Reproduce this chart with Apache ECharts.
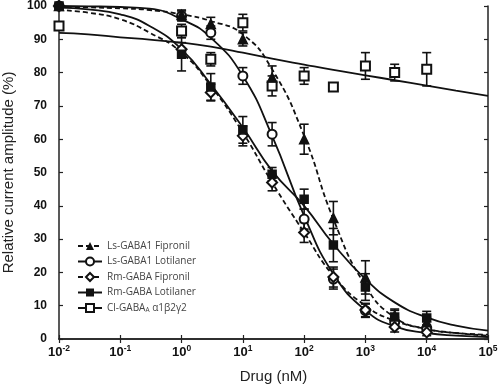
<!DOCTYPE html>
<html><head><meta charset="utf-8">
<script src="https://cdn.jsdelivr.net/npm/echarts@6/dist/echarts.min.js"></script>
<style>html,body{margin:0;padding:0;background:#fff}#c{width:500px;height:388px}</style>
</head><body><div id="c"></div>
<script>
// ---- data ----
const conc = [0.01, 1, 3, 10, 30, 100, 300, 1000, 3000, 10000];
const lsFipMean = [100, 97.3, 94.6, 90, 78.5, 60, 36.3, 18.5, 7, 5];
const lsFipErr  = [0, 1.5, 2, 2, 3.5, 4.5, 5, 5, 2, 1.5];
const lsLotMean = [100, 97, 92, 79, 61.5, 36, 18, 8.5, 5, 3];
const lsLotErr  = [0, 1.5, 2, 2.5, 3.5, 3, 3, 2, 1.5, 1];
const rmFipMean = [100, 87, 74, 61, 47, 32, 18.6, 8.7, 3.6, 2];
const rmFipErr  = [0, 2, 2.5, 3, 2.5, 3, 3, 2, 1.5, 1];
const rmLotMean = [100, 85.5, 75.7, 62.8, 49.5, 42, 28.2, 15.6, 6.6, 6.3];
const rmLotErr  = [0, 5, 4, 4, 2, 3, 5, 4, 2, 2];
const clMean    = [94, 92.5, 84, 95, 76, 79, 75.7, 82, 80, 81];
const clErr     = [1, 2, 2, 2.5, 3, 2.5, 0, 4, 2.5, 5];

const curveX     = [0.01, 0.03, 0.1, 0.3, 1, 3, 10, 30, 100, 300, 1000, 3000, 10000, 30000, 100000];
const lsFipCurve = [99.8, 99.6, 99.3, 98.8, 97.5, 95.5, 91.5, 81, 61, 36, 16, 6.5, 3, 1.8, 1.3];
const lsLotCurve = [100, 99.9, 99.7, 99.2, 96, 90.5, 79, 61, 37, 19.5, 8.6, 3.8, 1.8, 1, 0.6];
const rmFipCurve = [98.8, 98, 96, 92, 86, 76, 62, 47, 32, 19, 10, 5.5, 3, 1.8, 1];
const rmLotCurve = [99.5, 99, 97.5, 94, 87, 76.5, 63.5, 50.5, 40, 28.5, 18, 11, 6.5, 4, 2.5];
const clCurve    = [91.9, 91.5, 90.6, 89.9, 89, 87.8, 86, 84.2, 82.4, 80.8, 79.2, 77.7, 76.1, 74.6, 73];

const names = ['Ls-GABA1 Fipronil', 'Ls-GABA1 Lotilaner', 'Rm-GABA Fipronil', 'Rm-GABA Lotilaner', 'Cl-GABA_A α1β2γ2'];

// ---- chart ----
const INK = '#111';
const chart = echarts.init(document.getElementById('c'), null, {renderer: 'canvas'});

function pair(xs, ys) { return xs.map((x, i) => [x, ys[i]]); }

function curve(name, ys, dashed, symbol, size) {
  return {
    name: name, type: 'line', xAxisIndex: 0, yAxisIndex: 0,
    data: pair(curveX, ys), smooth: true, showSymbol: false,
    symbol: symbol, symbolSize: size,
    lineStyle: {color: INK, width: 1.8, type: dashed ? [5, 3] : 'solid'},
    itemStyle: {color: INK}, z: 2, silent: true
  };
}
function points(id, means, symbol, size) {
  return {
    name: id, type: 'scatter', xAxisIndex: 0, yAxisIndex: 0,
    data: pair(conc, means), symbol: symbol, symbolSize: size,
    itemStyle: {color: INK, borderColor: INK, borderWidth: 1.5, opacity: 1}, z: 5, silent: true
  };
}
function errs(id, means, es) {
  const d = [];
  conc.forEach((x, i) => { if (es[i] > 0) d.push([x, means[i] - es[i], means[i] + es[i]]); });
  return {
    name: id, type: 'custom', xAxisIndex: 0, yAxisIndex: 0, data: d, z: 4, silent: true,
    encode: {x: 0, y: [1, 2]},
    renderItem: function (params, api) {
      const x = api.value(0);
      const p1 = api.coord([x, api.value(1)]);
      const p2 = api.coord([x, api.value(2)]);
      const w = 4.5, st = {stroke: INK, lineWidth: 1.6};
      return {type: 'group', children: [
        {type: 'line', shape: {x1: p1[0], y1: p1[1], x2: p2[0], y2: p2[1]}, style: st},
        {type: 'line', shape: {x1: p1[0] - w, y1: p1[1], x2: p1[0] + w, y2: p1[1]}, style: st},
        {type: 'line', shape: {x1: p2[0] - w, y1: p2[1], x2: p2[0] + w, y2: p2[1]}, style: st}
      ]};
    }
  };
}

const axisFont = 'Liberation Sans, Arial, sans-serif';

const option = {
  backgroundColor: '#fff',
  animation: false,
  grid: {left: 59, right: 12, top: 6, bottom: 49, containLabel: false, outerBoundsMode: 'none'},
  legend: {
    orient: 'vertical', left: 72, top: 236, itemGap: 5.5, itemWidth: 24, itemHeight: 10,
    data: names, selectedMode: false,
    textStyle: {fontFamily: 'Open Sans, Liberation Sans, sans-serif', fontSize: 10, color: '#444',
      rich: {n: {fontFamily: 'Open Sans, sans-serif', fontSize: 10, color: '#444'},
             s: {fontFamily: 'Open Sans, sans-serif', fontSize: 6.5, color: '#444', verticalAlign: 'bottom', padding: [5, 0, 0, 0]}}},
    formatter: function (n) {
      if (n.indexOf('_A') > -1) { const p = n.split('_A'); return '{n|' + p[0] + '}{s|A}{n|' + p[1] + '}'; }
      return n;
    }
  },
  xAxis: [{
    type: 'log', logBase: 10, min: 0.01, max: 100000, position: 'bottom',
    name: 'Drug (nM)', nameLocation: 'middle', nameGap: 30,
    nameTextStyle: {fontFamily: axisFont, fontSize: 15, color: '#222'},
    axisLine: {lineStyle: {color: '#222', width: 1.5}},
    axisTick: {inside: true, length: 4, lineStyle: {color: '#222', width: 1.2}},
    minorTick: {show: false}, splitLine: {show: false},
    axisLabel: {
      margin: 5, color: INK,
      formatter: function (v) { const e = Math.round(Math.log10(v)); return '{b|10}{e|' + e + '}'; },
      rich: {b: {fontFamily: axisFont, fontWeight: 'bold', fontSize: 13, color: INK},
             e: {fontFamily: axisFont, fontWeight: 'bold', fontSize: 8.5, color: INK, verticalAlign: 'top', padding: [0, 0, 7, 0]}}
    }
  }, {
    type: 'log', logBase: 10, min: 0.01, max: 100000, position: 'top',
    axisLine: {lineStyle: {color: '#222', width: 1.5}},
    axisTick: {inside: true, length: 4, lineStyle: {color: '#222', width: 1.2}},
    axisLabel: {show: false}, splitLine: {show: false}
  }],
  yAxis: [{
    type: 'value', min: 0, max: 100, interval: 10, position: 'left',
    name: 'Relative current amplitude (%)', nameLocation: 'middle', nameGap: 31,
    nameTextStyle: {fontFamily: axisFont, fontSize: 15, color: '#222'},
    axisLine: {show: true, lineStyle: {color: '#222', width: 1.5}},
    axisTick: {show: true, inside: true, length: 4, lineStyle: {color: '#222', width: 1.2}},
    splitLine: {show: false},
    axisLabel: {margin: 12, fontFamily: axisFont, fontWeight: 'bold', fontSize: 12, color: INK}
  }, {
    type: 'value', min: 0, max: 100, interval: 10, position: 'right',
    axisLine: {show: true, lineStyle: {color: '#222', width: 1.5}},
    axisTick: {show: true, inside: true, length: 4, lineStyle: {color: '#222', width: 1.2}},
    axisLabel: {show: false}, splitLine: {show: false}
  }],
  series: [
    curve(names[0], lsFipCurve, true, 'triangle', 9),
    curve(names[1], lsLotCurve, false, 'emptyCircle', 9),
    curve(names[2], rmFipCurve, true, 'emptyDiamond', 9),
    curve(names[3], rmLotCurve, false, 'rect', 8),
    curve(names[4], clCurve, false, 'emptyRect', 9),
    errs('e0', lsFipMean, lsFipErr), errs('e1', lsLotMean, lsLotErr), errs('e2', rmFipMean, rmFipErr),
    errs('e3', rmLotMean, rmLotErr), errs('e4', clMean, clErr),
    points('p4', clMean, 'emptyRect', 9),
    points('p1', lsLotMean, 'emptyCircle', 9),
    points('p2', rmFipMean, 'emptyDiamond', 10),
    points('p3', rmLotMean, 'rect', 8),
    points('p0', lsFipMean, 'triangle', 9)
  ]
};
chart.setOption(option);
</script>
</body></html>
